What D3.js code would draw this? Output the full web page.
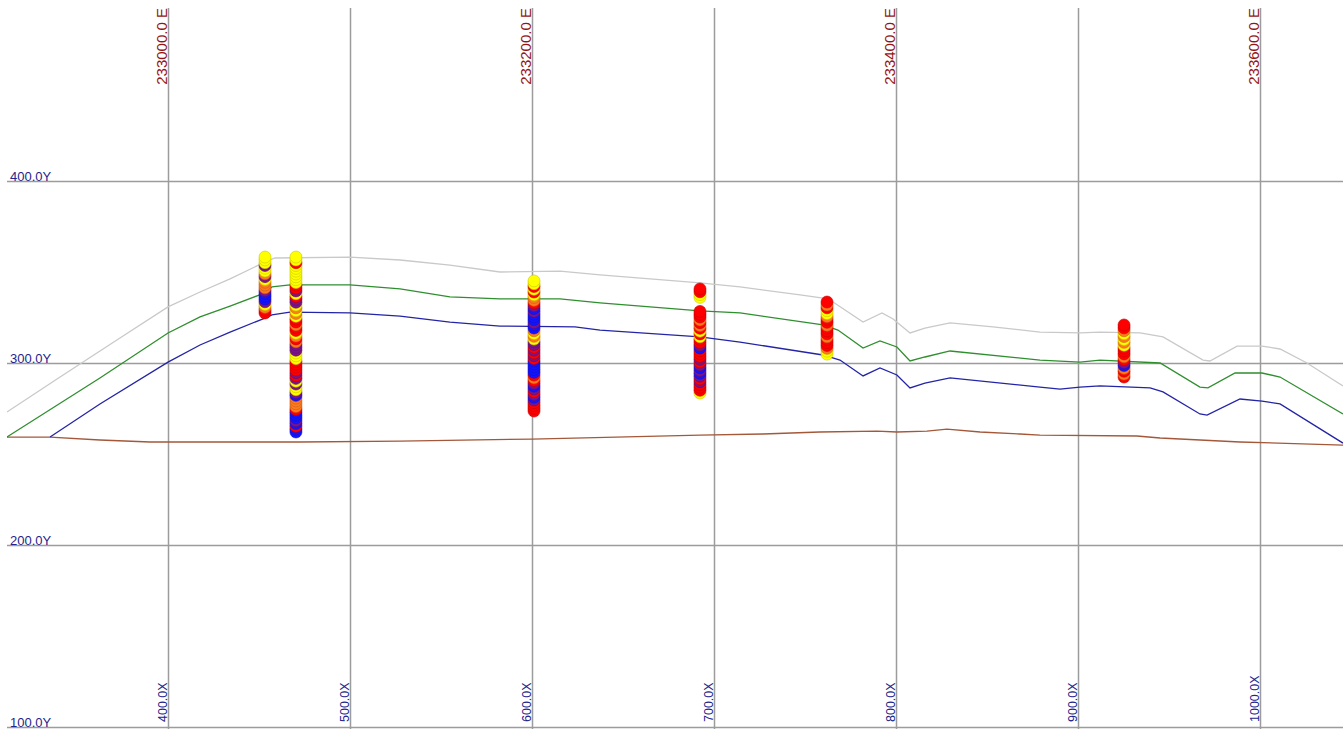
<!DOCTYPE html>
<html>
<head>
<meta charset="utf-8">
<script src="https://cdn.jsdelivr.net/npm/d3@7"></script>
<style>
    body { margin: 0; background: #fff; }
    svg { display: block; }
    .grid line { stroke: #9c9c9c; stroke-width: 1.5; }
    .grid .domain { display: none; }
    .horizon { fill: none; stroke-width: 1.3; }
    .easting-label { font-family: "Liberation Sans", Arial, sans-serif; font-size: 15px; fill: #951515; }
    .x-label { font-family: "Liberation Sans", Arial, sans-serif; font-size: 12.5px; fill: #24248c; }
    .y-label { font-family: "Liberation Sans", Arial, sans-serif; font-size: 13px; fill: #24248c; }
</style>
</head>
<body>
<div id="section"></div>
<script>
// grid ticks (section coordinates)
const xTicks = [400, 500, 600, 700, 800, 900, 1000];
const yTicks = [100, 200, 300, 400];
const eastingTicks = [233000, 233200, 233400, 233600];
const eastingOffset = 232600;

// horizons, [x, elevation]
const topoSurface = [
    [311.5, 273.1], [340.7, 292.3], [373.6, 313.7], [400, 330.8], [417.6, 339.0], [434.1, 346.2],
    [453.3, 355.5], [458.8, 357.7], [500, 358.2], [527.5, 356.6], [554.9, 353.8], [582.4, 350.0],
    [615.4, 350.5], [637.4, 348.4], [692.3, 344.0], [714.3, 341.8], [747.3, 337.4], [759.9, 335.7],
    [765.4, 333.5], [781.9, 322.5], [792.3, 327.5], [798.4, 324.2], [807.7, 316.5], [815.9, 319.2],
    [829.7, 322.0], [853.3, 319.8], [879.1, 317.0], [901.1, 316.5], [912.1, 317.0], [934.1, 316.5],
    [946.7, 314.3], [968.7, 301.6], [972.5, 301.1], [987.4, 309.3], [1001.1, 309.3], [1011.0, 307.7],
    [1025.8, 300.0], [1045.6, 287.4]
];
const greenHorizon = [
    [311.5, 259.3], [362.6, 291.8], [400, 316.5], [417.6, 325.3], [434.1, 331.3], [453.3, 338.5],
    [457.1, 341.8], [467.0, 342.9], [500, 342.9], [527.5, 340.7], [554.9, 336.3], [582.4, 335.2],
    [615.4, 335.2], [637.4, 333.0], [692.3, 328.6], [714.3, 327.5], [759.9, 320.9], [768.1, 318.1],
    [781.9, 308.2], [791.2, 312.1], [800.5, 308.8], [807.7, 301.1], [815.9, 303.3], [829.7, 306.6],
    [879.1, 301.6], [901.1, 300.5], [912.1, 301.6], [945.1, 300.0], [967.0, 286.8], [971.4, 286.3],
    [986.3, 294.5], [1001.1, 294.5], [1011.0, 292.3], [1045.6, 272.0]
];
const blueHorizon = [
    [335.2, 259.3], [362.6, 277.5], [400, 300.5], [417.6, 309.9], [434.1, 317.0], [453.3, 324.7],
    [457.1, 326.4], [467.0, 328.0], [500, 327.5], [527.5, 325.8], [554.9, 322.5], [582.4, 320.3],
    [623.6, 319.8], [637.4, 318.1], [692.3, 314.3], [714.3, 311.5], [759.9, 304.4], [769.2, 301.6],
    [781.9, 292.9], [791.2, 297.3], [800.5, 293.4], [807.7, 286.3], [815.9, 289.0], [829.7, 291.8],
    [879.1, 286.8], [890.1, 285.7], [901.1, 286.8], [912.1, 287.4], [939.6, 286.3], [946.7, 284.1],
    [967.0, 272.0], [970.9, 271.4], [989.0, 280.2], [1001.1, 279.1], [1011.0, 277.5], [1045.6, 256.0]
];
const brownHorizon = [
    [311.5, 259.3], [335.2, 259.3], [362.6, 257.7], [390.1, 256.6], [472.5, 256.6], [527.5, 257.1],
    [600, 258.2], [692.3, 260.4], [726.9, 261.0], [758.2, 262.1], [789.6, 262.6], [800.5, 262.1],
    [817.0, 262.6], [828.0, 263.7], [846.2, 262.1], [868.1, 261.0], [879.1, 260.4], [932.4, 259.9],
    [945.1, 258.8], [989.0, 256.6], [1045.6, 254.9]
];

// drill holes: collar x, top / bottom sample elevation, grade class per sample (top down, '.' = no sample)
const holeX = [453.3, 470.3, 601.1, 692.3, 762.1, 925.3];
const holeTop = [358.2, 358.2, 345.1, 340.7, 333.5, 320.9];
const holeBottom = [327.5, 262.1, 273.6, 283.5, 304.9, 292.3];
const holeGrades = [
    'YYYPYYOPYOOOPBBBPYORR',
    'YYRYYYYYYYRRPYRPPYOYOYRRORRYOROPPPYYYRRRRPRPYPYYPBOOOORBBBPBRBB',
    'YYRYRYOORPBPBBBPBBOYOYPPRPRPRBBBBBRORPBPRPBPRRRR',
    'RRYY....RRRORORYRYRRPBRRRPRPBPBPRPRRRY',
    'RORYYORRORRRORRROYY',
    'RROYOYOYRRRORPBOROR'
];

const gradeColors = { Y: '#ffff00', O: '#ff7a1e', R: '#ff0000', P: '#7d1388', B: '#1414ff' };
const horizonColors = { topo: '#c9c9c9', green: '#2f8f2f', blue: '#2424a6', brown: '#a3583a' };

class SectionView {

    constructor(_config) {
        this.config = {
            parentElement: _config.parentElement,
            containerWidth: _config.containerWidth || 1343,
            containerHeight: _config.containerHeight || 729,
            plot: _config.plot || { left: 7, top: 8, right: 1343, bottom: 729 }
        };
        this.initVis();
    }

    initVis() {
        let vis = this;
        let p = vis.config.plot;

        vis.svg = d3.select(vis.config.parentElement)
            .append('svg')
            .attr('width', vis.config.containerWidth)
            .attr('height', vis.config.containerHeight);

        vis.svg.append('rect')
            .attr('width', vis.config.containerWidth)
            .attr('height', vis.config.containerHeight)
            .attr('fill', '#fff');

        vis.svg.append('clipPath')
            .attr('id', 'plot-clip')
            .append('rect')
            .attr('x', p.left)
            .attr('y', p.top)
            .attr('width', p.right - p.left)
            .attr('height', p.bottom - p.top);

        // equal scale: 100 m = 182 px both ways
        vis.xScale = d3.scaleLinear().domain([400, 1000]).range([168, 1260]);
        vis.yScale = d3.scaleLinear().domain([100, 400]).range([727, 181]);

        vis.svg.append('g')
            .attr('class', 'grid')
            .attr('transform', `translate(0,${p.bottom})`)
            .call(d3.axisBottom(vis.xScale).tickValues(xTicks).tickSize(-(p.bottom - p.top)).tickFormat(''));

        vis.svg.append('g')
            .attr('class', 'grid')
            .attr('transform', `translate(${p.left},0)`)
            .call(d3.axisLeft(vis.yScale).tickValues(yTicks).tickSize(-(p.right - p.left)).tickFormat(''));

        vis.chart = vis.svg.append('g').attr('clip-path', 'url(#plot-clip)');
        vis.renderVis();
    }

    renderVis() {
        let vis = this;
        let p = vis.config.plot;

        let line = d3.line()
            .x(d => vis.xScale(d[0]))
            .y(d => vis.yScale(d[1]));

        let horizons = [
            { key: 'brown', data: brownHorizon },
            { key: 'topo', data: topoSurface },
            { key: 'green', data: greenHorizon },
            { key: 'blue', data: blueHorizon }
        ];

        vis.chart.selectAll('.horizon')
            .data(horizons)
            .join('path')
            .attr('class', 'horizon')
            .attr('stroke', d => horizonColors[d.key])
            .attr('d', d => line(d.data));

        // samples, deepest first so the upper ones sit on top
        let samples = [];
        holeGrades.forEach((grades, h) => {
            let n = grades.length;
            let step = (holeTop[h] - holeBottom[h]) / (n - 1);
            grades.split('').forEach((g, i) => {
                if (g === '.') return;
                samples.push({ x: holeX[h], z: holeTop[h] - i * step, grade: g });
            });
        });
        samples.sort((a, b) => a.z - b.z);

        vis.chart.selectAll('.sample')
            .data(samples)
            .join('circle')
            .attr('class', 'sample')
            .attr('cx', d => vis.xScale(d.x))
            .attr('cy', d => vis.yScale(d.z))
            .attr('r', 6)
            .attr('fill', d => gradeColors[d.grade])
            .attr('stroke', d => d3.color(gradeColors[d.grade]).darker(0.7))
            .attr('stroke-width', 0.6);

        // labels
        vis.svg.selectAll('.easting-label')
            .data(eastingTicks)
            .join('text')
            .attr('class', 'easting-label')
            .attr('transform', d => `translate(${vis.xScale(d - eastingOffset) - 1},${p.top}) rotate(-90)`)
            .attr('text-anchor', 'end')
            .text(d => `${d.toFixed(1)} E`);

        vis.svg.selectAll('.x-label')
            .data(xTicks)
            .join('text')
            .attr('class', 'x-label')
            .attr('transform', d => `translate(${vis.xScale(d) - 1},722) rotate(-90)`)
            .attr('text-anchor', 'start')
            .text(d => `${d.toFixed(1)}X`);

        vis.svg.selectAll('.y-label')
            .data(yTicks)
            .join('text')
            .attr('class', 'y-label')
            .attr('x', 10)
            .attr('y', d => vis.yScale(d))
            .text(d => `${d.toFixed(1)}Y`);
    }
}

new SectionView({ parentElement: '#section' });
</script>
</body>
</html>
